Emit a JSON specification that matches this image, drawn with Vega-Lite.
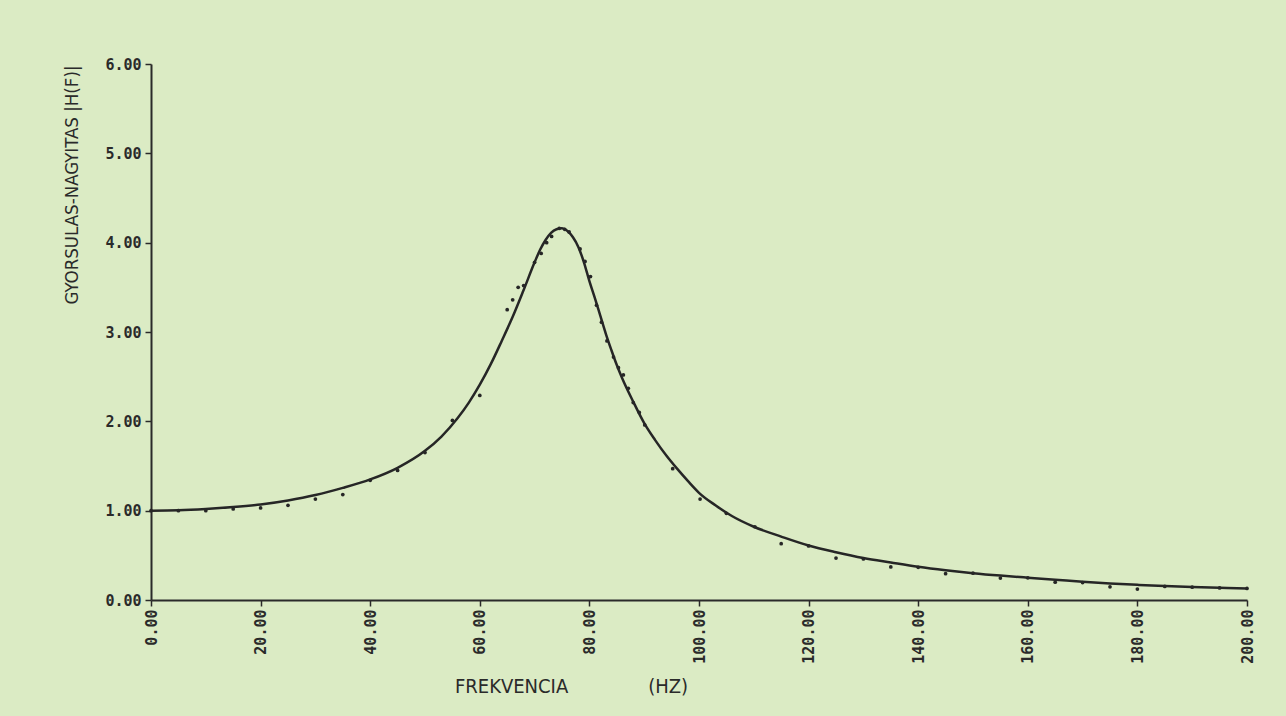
{
  "$schema": "https://vega.github.io/schema/vega-lite/v6.json",
  "width": 1096,
  "height": 536,
  "autosize": "none",
  "padding": {"left": 151, "top": 64, "right": 39, "bottom": 116},
  "background": "#dbebc4",
  "config": {
    "view": {"stroke": null},
    "axis": {
      "domainColor": "#2a2a2a",
      "domainWidth": 2,
      "tickColor": "#2a2a2a",
      "tickWidth": 1.5,
      "tickSize": 6,
      "grid": false,
      "labelFont": "DejaVu Sans Mono",
      "labelFontWeight": "bold",
      "labelFontSize": 15,
      "labelColor": "#2a2a2a",
      "titleFont": "Liberation Sans Narrow, DejaVu Sans Condensed, DejaVu Sans, sans-serif",
      "titleFontWeight": "normal",
      "titleFontSize": 20,
      "titleColor": "#2a2a2a"
    }
  },
  "datasets": {
    "curve": [
      {"f": 0, "v": 1.0}, {"f": 5, "v": 1.004}, {"f": 10, "v": 1.018}, {"f": 15, "v": 1.04},
      {"f": 20, "v": 1.07}, {"f": 25, "v": 1.115}, {"f": 30, "v": 1.175}, {"f": 35, "v": 1.255},
      {"f": 40, "v": 1.35}, {"f": 45, "v": 1.48}, {"f": 50, "v": 1.67}, {"f": 53, "v": 1.83},
      {"f": 56, "v": 2.04}, {"f": 58, "v": 2.21}, {"f": 60, "v": 2.41}, {"f": 62, "v": 2.64},
      {"f": 64, "v": 2.9}, {"f": 66, "v": 3.17}, {"f": 68, "v": 3.47}, {"f": 70, "v": 3.78},
      {"f": 71, "v": 3.92}, {"f": 72, "v": 4.03}, {"f": 73, "v": 4.11}, {"f": 74, "v": 4.15},
      {"f": 75, "v": 4.16}, {"f": 76, "v": 4.13}, {"f": 77, "v": 4.06}, {"f": 78, "v": 3.95},
      {"f": 79, "v": 3.78}, {"f": 80, "v": 3.57}, {"f": 81, "v": 3.38}, {"f": 82, "v": 3.18},
      {"f": 83, "v": 2.98}, {"f": 84, "v": 2.8}, {"f": 85, "v": 2.63}, {"f": 86, "v": 2.48},
      {"f": 88, "v": 2.22}, {"f": 90, "v": 1.98}, {"f": 92, "v": 1.79}, {"f": 94, "v": 1.62},
      {"f": 96, "v": 1.47}, {"f": 98, "v": 1.33}, {"f": 100, "v": 1.2}, {"f": 103, "v": 1.06},
      {"f": 106, "v": 0.94}, {"f": 110, "v": 0.82}, {"f": 115, "v": 0.71}, {"f": 120, "v": 0.61},
      {"f": 125, "v": 0.535}, {"f": 130, "v": 0.47}, {"f": 135, "v": 0.42}, {"f": 140, "v": 0.372},
      {"f": 145, "v": 0.333}, {"f": 150, "v": 0.3}, {"f": 155, "v": 0.273}, {"f": 160, "v": 0.25},
      {"f": 165, "v": 0.228}, {"f": 170, "v": 0.205}, {"f": 175, "v": 0.186}, {"f": 180, "v": 0.17},
      {"f": 185, "v": 0.156}, {"f": 190, "v": 0.145}, {"f": 195, "v": 0.137}, {"f": 200, "v": 0.13}
    ],
    "pts": [
      {"f": 0, "v": 1.0}, {"f": 5, "v": 1.0}, {"f": 10, "v": 1.0}, {"f": 15, "v": 1.02},
      {"f": 20, "v": 1.03}, {"f": 25, "v": 1.06}, {"f": 30, "v": 1.13}, {"f": 35, "v": 1.18},
      {"f": 40, "v": 1.34}, {"f": 45, "v": 1.45}, {"f": 50, "v": 1.65}, {"f": 55, "v": 2.01},
      {"f": 60, "v": 2.29}, {"f": 65, "v": 3.25}, {"f": 66, "v": 3.36}, {"f": 67, "v": 3.5},
      {"f": 68, "v": 3.52}, {"f": 70, "v": 3.78}, {"f": 71.2, "v": 3.88}, {"f": 72.2, "v": 4.0},
      {"f": 73.1, "v": 4.07}, {"f": 74.5, "v": 4.16}, {"f": 75.5, "v": 4.15}, {"f": 76.3, "v": 4.12},
      {"f": 78.3, "v": 3.93}, {"f": 79.2, "v": 3.79}, {"f": 80.2, "v": 3.62}, {"f": 81.3, "v": 3.3},
      {"f": 82.2, "v": 3.11}, {"f": 83.2, "v": 2.9}, {"f": 84.4, "v": 2.72}, {"f": 85.3, "v": 2.6},
      {"f": 86.2, "v": 2.52}, {"f": 87.1, "v": 2.37}, {"f": 88, "v": 2.21}, {"f": 89.1, "v": 2.1},
      {"f": 90.1, "v": 1.96}, {"f": 95.2, "v": 1.47}, {"f": 100.2, "v": 1.13}, {"f": 105, "v": 0.97},
      {"f": 110.2, "v": 0.82}, {"f": 115, "v": 0.63}, {"f": 120, "v": 0.605}, {"f": 125, "v": 0.47},
      {"f": 130, "v": 0.46}, {"f": 135, "v": 0.37}, {"f": 140, "v": 0.366}, {"f": 145, "v": 0.295},
      {"f": 150, "v": 0.3}, {"f": 155, "v": 0.245}, {"f": 160, "v": 0.248}, {"f": 165, "v": 0.2},
      {"f": 170, "v": 0.195}, {"f": 175, "v": 0.147}, {"f": 180, "v": 0.122}, {"f": 185, "v": 0.152},
      {"f": 190, "v": 0.143}, {"f": 195, "v": 0.135}, {"f": 200, "v": 0.13}
    ]
  },
  "encoding": {
    "x": {
      "field": "f",
      "type": "quantitative",
      "scale": {"domain": [0, 200], "nice": false},
      "axis": {
        "values": [0, 20, 40, 60, 80, 100, 120, 140, 160, 180, 200],
        "format": ".2f",
        "labelAngle": -90,
        "labelPadding": 3,
        "title": "FREKVENCIA\u00a0\u00a0\u00a0\u00a0\u00a0\u00a0\u00a0\u00a0\u00a0\u00a0\u00a0\u00a0\u00a0\u00a0(HZ)",
        "titleX": 420,
        "titleY": 92,
        "titleAlign": "center",
        "titleBaseline": "alphabetic"
      }
    },
    "y": {
      "field": "v",
      "type": "quantitative",
      "scale": {"domain": [0, 6], "nice": false},
      "axis": {
        "values": [0, 1, 2, 3, 4, 5, 6],
        "format": ".2f",
        "labelPadding": 4,
        "title": "GYORSULAS-NAGYITAS\u00a0|H(F)|",
        "titleFontSize": 18.5,
        "titleAngle": -90,
        "titleAlign": "right",
        "titleBaseline": "middle",
        "titleX": -80,
        "titleY": 1
      }
    }
  },
  "layer": [
    {
      "data": {"name": "curve"},
      "mark": {"type": "line", "color": "#262626", "strokeWidth": 2.5, "interpolate": "monotone"}
    },
    {
      "data": {"name": "pts"},
      "mark": {"type": "circle", "color": "#262626", "size": 14, "opacity": 1}
    }
  ]
}
